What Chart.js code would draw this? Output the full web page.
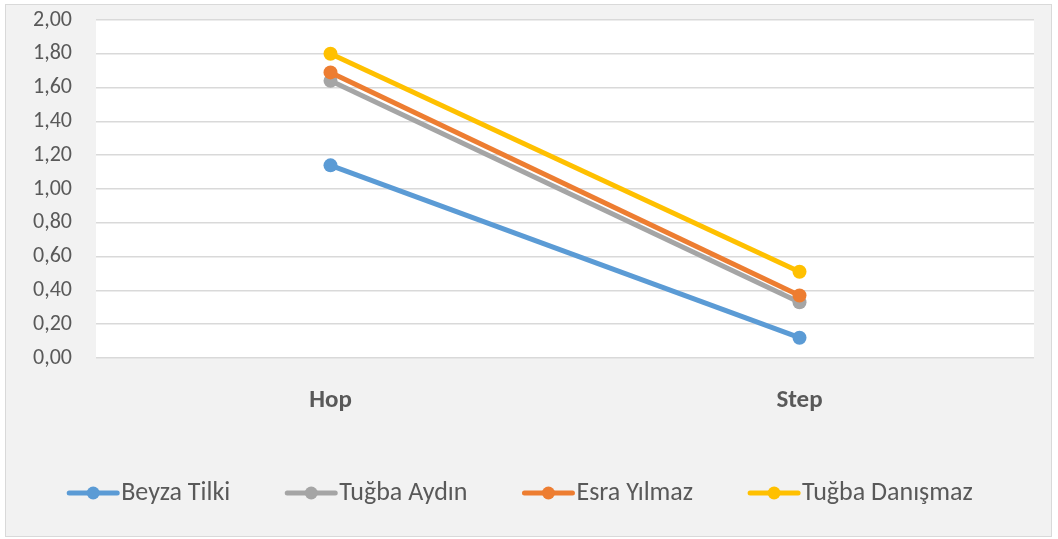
<!DOCTYPE html>
<html>
<head>
<meta charset="utf-8">
<script src="https://cdn.jsdelivr.net/npm/chart.js@4"></script>
<style>
  html, body { margin: 0; padding: 0; background: #ffffff; }
  #wrap {
    position: absolute; left: 5px; top: 4px;
    width: 1045px; height: 531px;
    background: #f2f2f2; border: 1px solid #d9d9d9;
  }
</style>
</head>
<body>
<div id="wrap"><canvas id="lineChart"></canvas></div>
<script>
// chart data
const categories = ['Hop', 'Step'];
const seriesNames = ['Beyza Tilki', 'Tuğba Aydın', 'Esra Yılmaz', 'Tuğba Danışmaz'];
const beyzaTilki = [1.14, 0.12];
const tugbaAydin = [1.64, 0.33];
const esraYilmaz = [1.69, 0.37];
const tugbaDanismaz = [1.80, 0.51];
const seriesColors = ['#5b9bd5', '#a5a5a5', '#ed7d31', '#ffc000'];

const fontFamily = "Carlito, 'Open Sans', sans-serif";

// white plot area like the excel chart
const plotBackground = {
    id: 'plotBackground',
    beforeDraw(chart) {
        const a = chart.chartArea;
        const c = chart.ctx;
        c.save();
        c.fillStyle = '#ffffff';
        c.fillRect(a.left, a.top, a.right - a.left, a.bottom - a.top);
        c.restore();
    }
};

// legend marker: short line with a dot in the middle
const legendMarkers = {
    id: 'legendMarkers',
    afterDraw(chart) {
        const legend = chart.legend;
        if (!legend || !legend.legendHitBoxes) return;
        const c = chart.ctx;
        legend.legendItems.forEach((item, i) => {
            const hb = legend.legendHitBoxes[i];
            const color = chart.data.datasets[item.datasetIndex].borderColor;
            const y = hb.top + hb.height / 2;
            c.save();
            c.strokeStyle = color;
            c.fillStyle = color;
            c.lineWidth = 5;
            c.lineCap = 'round';
            c.beginPath();
            c.moveTo(hb.left + 2, y);
            c.lineTo(hb.left + 50, y);
            c.stroke();
            c.beginPath();
            c.arc(hb.left + 26, y, 6.5, 0, Math.PI * 2);
            c.fill();
            c.restore();
        });
    }
};

const allValues = [beyzaTilki, tugbaAydin, esraYilmaz, tugbaDanismaz];
const datasets = allValues.map((vals, i) => ({
    label: seriesNames[i],
    data: vals,
    borderColor: seriesColors[i],
    backgroundColor: seriesColors[i],
    borderWidth: 5,
    pointRadius: 7,
    pointHoverRadius: 7,
    pointBorderWidth: 0,
    order: allValues.length - i, // last series drawn on top
    fill: false
}));

const ctx = document.getElementById('lineChart').getContext('2d');
const chart = new Chart(ctx, {
    type: 'line',
    data: { labels: categories, datasets: datasets },
    options: {
        responsive: true,
        maintainAspectRatio: false,
        animation: false,
        layout: { padding: { top: 0, right: 17, left: 0, bottom: 20 } },
        scales: {
            x: {
                offset: true,
                grid: { display: false },
                border: { display: false },
                ticks: {
                    color: '#595959',
                    padding: 20,
                    font: { family: fontFamily, size: 25, weight: 'bold' }
                },
                afterFit(scale) { scale.height = 67; }
            },
            y: {
                min: 0,
                max: 2,
                ticks: {
                    stepSize: 0.2,
                    color: '#595959',
                    padding: 24,
                    font: { family: fontFamily, size: 22 },
                    callback: v => v.toFixed(2).replace('.', ',')
                },
                grid: { color: '#d9d9d9', lineWidth: 1.5, drawTicks: false },
                border: { display: false },
                afterFit(scale) {
                    scale.width = 90;
                    // the tick padding would otherwise push the plot down
                    scale.paddingTop = 15;
                    scale.paddingBottom = 0;
                }
            }
        },
        plugins: {
            legend: {
                position: 'bottom',
                labels: {
                    boxWidth: 41,
                    boxHeight: 16,
                    padding: 55,
                    color: '#595959',
                    font: { family: fontFamily, size: 26 },
                    sort: (a, b) => a.datasetIndex - b.datasetIndex,
                    generateLabels(chart) {
                        const items = Chart.defaults.plugins.legend.labels.generateLabels(chart);
                        items.forEach(it => {
                            it.fillStyle = 'rgba(0,0,0,0)';
                            it.strokeStyle = 'rgba(0,0,0,0)';
                            it.lineWidth = 0;
                        });
                        return items;
                    }
                }
            },
            tooltip: { enabled: false }
        }
    },
    plugins: [plotBackground, legendMarkers]
});
</script>
</body>
</html>
